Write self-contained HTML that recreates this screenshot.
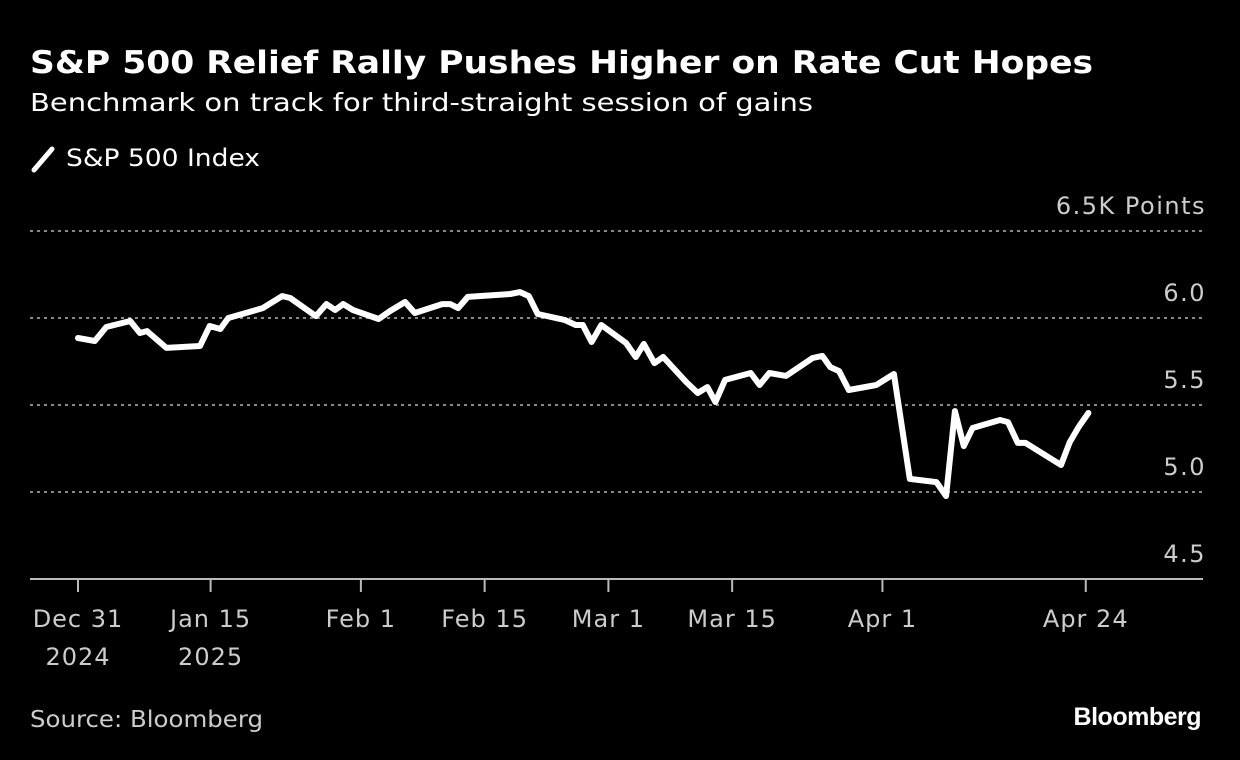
<!DOCTYPE html>
<html><head><meta charset="utf-8"><style>
html,body{margin:0;padding:0;background:#000;}
svg{display:block;font-family:"Liberation Sans","DejaVu Sans",sans-serif;}
</style></head><body>
<svg id="chart" width="1240" height="760" viewBox="0 0 1240 760" xmlns="http://www.w3.org/2000/svg">
<rect width="1240" height="760" fill="#000"/>
<text x="30" y="73" fill="#fff" font-size="31" font-weight="bold" font-family="DejaVu Sans, sans-serif" textLength="1063" lengthAdjust="spacingAndGlyphs">S&amp;P 500 Relief Rally Pushes Higher on Rate Cut Hopes</text>
<text x="30" y="111" fill="#fff" font-size="25" font-family="DejaVu Sans, sans-serif" textLength="783" lengthAdjust="spacingAndGlyphs">Benchmark on track for third-straight session of gains</text>
<g>
<line x1="34" y1="170" x2="52" y2="149" stroke="#fff" stroke-width="5" stroke-linecap="round"/>
<text x="66" y="166" fill="#fff" font-size="24" font-family="DejaVu Sans, sans-serif" textLength="194" lengthAdjust="spacingAndGlyphs">S&amp;P 500 Index</text>
</g>
<g id="grid"></g><g id="yl"></g><g id="xl"></g>
<path id="line" fill="none" stroke="#fff" stroke-width="6" stroke-linejoin="round" stroke-linecap="round"/>
<text x="30" y="727" fill="#ccc" font-size="23" font-family="DejaVu Sans, sans-serif" textLength="233" lengthAdjust="spacingAndGlyphs">Source: Bloomberg</text>
<text x="1201" y="725" fill="#fff" font-size="25" font-weight="bold" text-anchor="end" letter-spacing="-0.5">Bloomberg</text>
</svg>
<script>
const dayOffsets=[0,1.9,3.2,5.9,7,7.8,10,13.8,14.9,16.1,17,20.9,23.1,24,26.9,28.1,29.1,30,31.1,34,35.3,37,38.1,41.2,42.1,43,44.1,48.9,50,51,52,55.1,56.3,57.1,58.1,59.2,62,63.1,64,65.2,66.2,68.8,70.1,71.2,72.1,73.2,76.1,77.1,78.2,80.1,83.1,84.2,85.1,86.1,87.2,90.3,92.3,94.1,97.1,98.2,99.2,100.2,101.2,104.3,105.2,106.3,107.2,111.2,112.2,113.2,114.3];
const values=[5885,5868,5948,5983,5914,5925,5828,5839,5954,5937,6000,6057,6126,6115,6011,6080,6046,6080,6046,5994,6040,6092,6029,6080,6080,6057,6121,6138,6149,6126,6023,5988,5960,5960,5862,5960,5856,5776,5851,5741,5776,5632,5569,5603,5517,5644,5684,5615,5684,5667,5770,5782,5718,5695,5586,5615,5678,5075,5057,4977,5465,5264,5368,5414,5402,5282,5282,5155,5287,5374,5454];
const yTicks=[4500,5000,5500,6000,6500];
const yTickLabels=["4.5","5.0","5.5","6.0","6.5K Points"];
const xTickDays=[0,15,32,46,60,74,91,114];
const xTickLabels=[["Dec 31","2024"],["Jan 15","2025"],["Feb 1"],["Feb 15"],["Mar 1"],["Mar 15"],["Apr 1"],["Apr 24"]];
const NS="http://www.w3.org/2000/svg";
function x(d){return 78+d*8.84;}
function y(v){return 579-(v-4500)*0.174;}
const grid=document.getElementById('grid'),yl=document.getElementById('yl'),xl=document.getElementById('xl');
yTicks.forEach((t,i)=>{
  const l=document.createElementNS(NS,'line');
  
  
  l.setAttribute('x1',30);l.setAttribute('x2',1203);l.setAttribute('y1',y(t));l.setAttribute('y2',y(t));
  if(i===0){l.setAttribute('stroke','#bbb');l.setAttribute('stroke-width','2');}
  else{l.setAttribute('stroke','#888');l.setAttribute('stroke-width','2');l.setAttribute('stroke-dasharray','3 4');}
  grid.appendChild(l);
  const tx=document.createElementNS(NS,'text');
  
  
  tx.setAttribute('x',1206);tx.setAttribute('y',y(t)-17);tx.setAttribute('text-anchor','end');
  tx.setAttribute('letter-spacing','1.5');
  tx.setAttribute('fill','#ccc');tx.setAttribute('font-size','24');tx.setAttribute('font-family','DejaVu Sans, sans-serif');
  tx.textContent=yTickLabels[i];yl.appendChild(tx);
});
xTickDays.forEach((d,i)=>{
  const l=document.createElementNS(NS,'line');
  
  
  l.setAttribute('x1',x(d));l.setAttribute('x2',x(d));l.setAttribute('y1',579);l.setAttribute('y2',592);
  l.setAttribute('stroke','#bbb');l.setAttribute('stroke-width','2');xl.appendChild(l);
  xTickLabels[i].forEach((s,j)=>{
    const tx=document.createElementNS(NS,'text');
    
    
    tx.setAttribute('x',x(d));tx.setAttribute('y',627+j*38);tx.setAttribute('text-anchor','middle');
    tx.setAttribute('letter-spacing','1');
    tx.setAttribute('fill','#ccc');tx.setAttribute('font-size','24');tx.setAttribute('font-family','DejaVu Sans, sans-serif');
    tx.textContent=s;xl.appendChild(tx);
  });
});
document.getElementById('line').setAttribute('d',values.map((v,i)=>(i?'L':'M')+x(dayOffsets[i]).toFixed(1)+' '+y(v).toFixed(1)).join(' '));
</script>
</body></html>
